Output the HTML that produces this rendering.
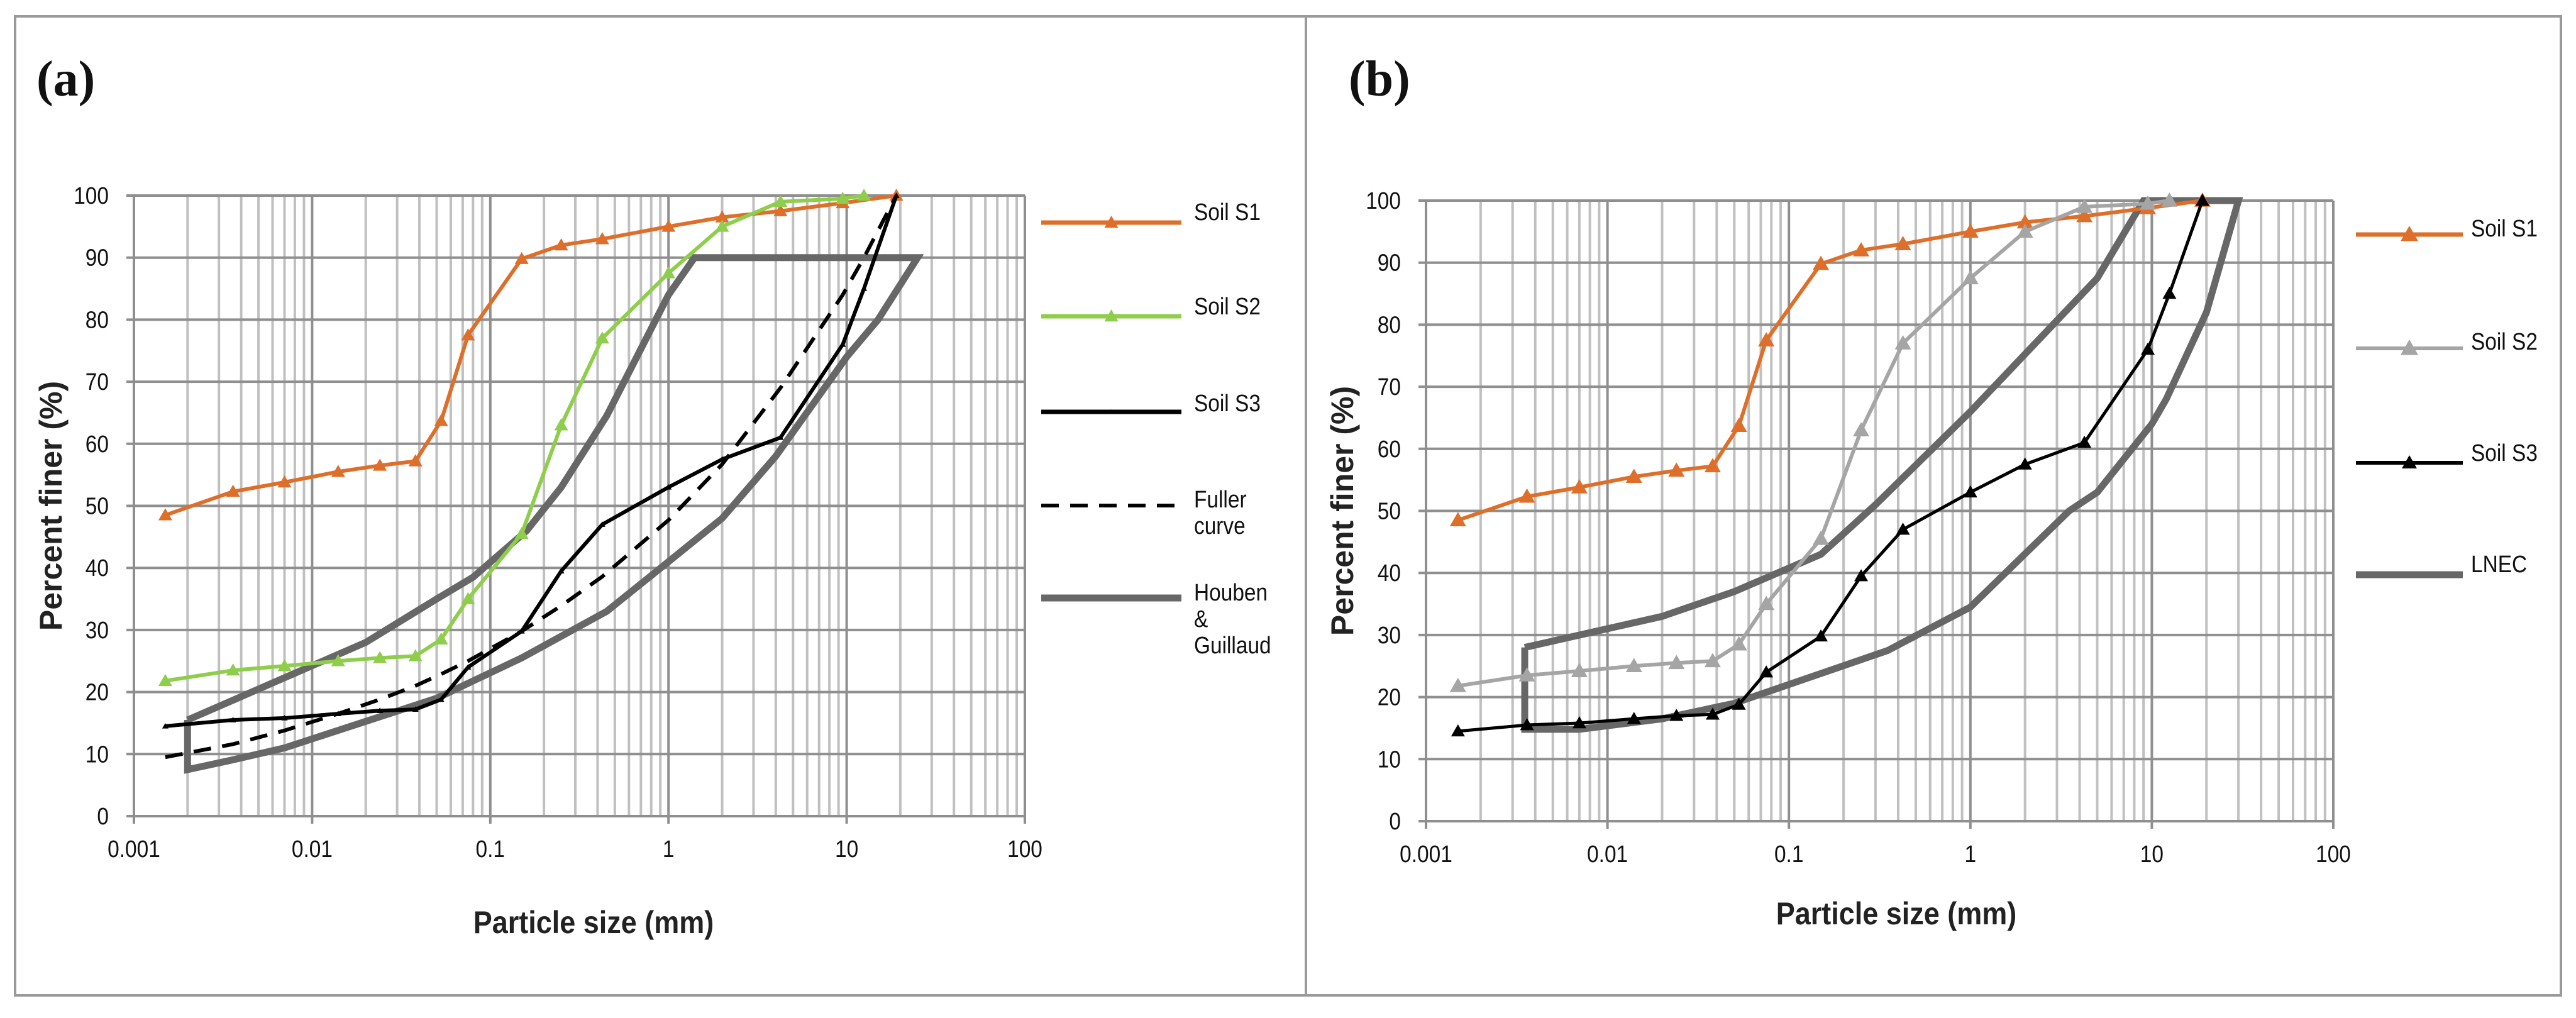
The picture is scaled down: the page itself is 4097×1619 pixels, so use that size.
<!DOCTYPE html>
<html><head><meta charset="utf-8"><style>
html,body{margin:0;padding:0;background:#fff;}
svg{display:block;}
text{font-family:"Liberation Sans",sans-serif;}
</style></head><body>
<svg id="chart" width="4097" height="1619" viewBox="0 0 4097 1619" xmlns="http://www.w3.org/2000/svg">
<rect x="24" y="26" width="4049" height="1557" fill="none" stroke="#9a9a9a" stroke-width="4"/>
<line x1="2077" y1="26" x2="2077" y2="1583" stroke="#9a9a9a" stroke-width="4"/>
<g id="pa"></g>
<g id="pb"></g>
</svg>
<script>
// ---- data ----
const sizesS = [0.0015,0.0036,0.007,0.014,0.024,0.038,0.053,0.075,0.15,0.25,0.425,1,2,4.25,9.5,19];
const s1Vals = [48.5,52.3,53.8,55.5,56.5,57.2,63.7,77.5,89.8,92,93,95,96.5,97.5,98.8,100];
const sizesS2 = [0.0015,0.0036,0.007,0.014,0.024,0.038,0.053,0.075,0.15,0.25,0.425,1,2,4.25,9.5,12.5];
const s2Vals = [21.8,23.5,24.2,25,25.5,25.8,28.5,35,45.5,63,77,87.5,95,99,99.5,100];
const sizesS3 = [0.0015,0.0036,0.007,0.014,0.024,0.038,0.053,0.075,0.15,0.25,0.425,1,2,4.25,9.5,12.5,19];
const s3Vals = [14.5,15.5,15.8,16.5,17,17.2,18.8,24,29.8,39.5,47,53,57.5,61,76,85,100];
const fullerSizes = [0.0015,0.0036,0.007,0.014,0.024,0.038,0.053,0.075,0.15,0.25,0.425,1,2,4.25,9.5,12.5,19];
const fullerVals = [9.5,11.6,13.8,16.5,18.8,21,22.9,25,29.8,33.9,38.6,47.7,56.7,69,84,90,100];
const houbenSizes = [0.002,0.02,0.05,0.08,0.16,0.25,0.45,1,1.4,25,15,10,4,2,1,0.45,0.15,0.05,0.007,0.0035,0.002,0.002];
const houbenVals = [15.5,28,35,38.5,46,53,64.5,84,90,90,80,74,58,48,41,33,25.5,19,11,9,7.5,15.5];
const lnecSizes = [0.0035,0.02,0.05,0.15,0.3,1,5,9,30,20,12,10,5,3.5,1,0.35,0.05,0.02,0.007,0.0035,0.0035];
const lnecVals = [28,33,37,43,51,66,87.5,100,100,82,68,64,53,50,34.5,27.5,19,16.5,14.8,14.8,28];
const yTicks = [0,10,20,30,40,50,60,70,80,90,100];
const xTicks = [0.001,0.01,0.1,1,10,100];
const xTickLabels = ["0.001","0.01","0.1","1","10","100"];

const NS="http://www.w3.org/2000/svg";
function mk(parent,tag,attrs,name,txt){
  const e=document.createElementNS(NS,tag);
  for(const k in attrs) e.setAttribute(k,attrs[k]);
  
  
  if(txt!==undefined) e.textContent=txt;
  parent.appendChild(e); return e;
}
function panel(g,cfg){
  const X=v=>cfg.x0+(Math.log10(v)+3)*(cfg.x1-cfg.x0)/5;
  const Y=v=>cfg.y0-v*(cfg.y0-cfg.y1)/100;
  for(let d=0;d<5;d++){for(let m=2;m<=9;m++){const v=Math.pow(10,d-3)*m;
    mk(g,'line',{x1:X(v),x2:X(v),y1:Y(0),y2:Y(100),stroke:'#c0c0c0','stroke-width':4},'minor-gridline');}}
  for(const v of xTicks){mk(g,'line',{x1:X(v),x2:X(v),y1:Y(0),y2:Y(100),stroke:'#8f8f8f','stroke-width':4},'major-gridline-x');}
  for(const v of yTicks){mk(g,'line',{x1:X(0.001)-12,x2:X(100),y1:Y(v),y2:Y(v),stroke:'#8f8f8f','stroke-width':4},'gridline-y');
    mk(g,'text',{x:X(0.001)-40,y:Y(v)+13,'text-anchor':'end','font-size':38,fill:'#111',transform:`translate(${(X(0.001)-40)*0.12},0) scale(0.88,1)`},'y-tick-label',String(v));}
  for(let i=0;i<xTicks.length;i++){const x=X(xTicks[i]);
    mk(g,'line',{x1:x,x2:x,y1:Y(0),y2:Y(0)+12,stroke:'#8f8f8f','stroke-width':4},'x-tick');
    mk(g,'text',{x:x/0.88,y:Y(0)+65,'text-anchor':'middle','font-size':38,fill:'#111',transform:'scale(0.88,1)'},'x-tick-label',xTickLabels[i]);}
  mk(g,'text',{x:0,y:0,'text-anchor':'middle','font-size':50,'font-weight':'bold',fill:'#222',transform:`translate(${cfg.ytx},${(Y(0)+Y(100))/2}) rotate(-90)`},'y-axis-title','Percent finer (%)');
  mk(g,'text',{x:cfg.xtx/0.9,y:cfg.xty,'text-anchor':'middle','font-size':50,'font-weight':'bold',fill:'#222',transform:'scale(0.9,1)'},'x-axis-title','Particle size (mm)');
  mk(g,'text',{x:cfg.lx,y:152,'font-size':80,'font-weight':'bold',fill:'#111',style:'font-family:"Liberation Serif",serif'},'panel-label',cfg.label);
  const env=cfg.env;
  mk(g,'polyline',{points:env.xs.map((v,i)=>X(v)+','+Y(env.ys[i])).join(' '),fill:'none',stroke:'#676767','stroke-width':11,'stroke-linejoin':'miter'},env.name);
  for(const s of cfg.series){
    const a={points:s.xs.map((v,i)=>X(v)+','+Y(s.ys[i])).join(' '),fill:'none',stroke:s.color,'stroke-width':s.w,'stroke-linejoin':'round'};
    if(s.dash) a['stroke-dasharray']=s.dash;
    mk(g,'polyline',a,s.name+'-line');
    if(s.mk){for(let i=0;i<s.xs.length;i++){const cx=X(s.xs[i]),cy=Y(s.ys[i]),r=s.mk;
      mk(g,'polygon',{points:`${cx},${cy-r} ${cx-r},${cy+r*0.75} ${cx+r},${cy+r*0.75}`,fill:s.color},s.name+'-marker');}}
  }
  for(const L of cfg.legend){
    const a={x1:cfg.lgx0,x2:cfg.lgx1,y1:L.y,y2:L.y,stroke:L.color,'stroke-width':L.w};
    if(L.dash)a['stroke-dasharray']=L.dash;
    mk(g,'line',a,'legend-line');
    if(L.mk){const cx=(cfg.lgx0+cfg.lgx1)/2,r=L.mk;mk(g,'polygon',{points:`${cx},${L.y-r} ${cx-r},${L.y+r*0.75} ${cx+r},${L.y+r*0.75}`,fill:L.color},'legend-marker');}
    L.text.forEach((t,j)=>mk(g,'text',{x:cfg.lgtx/0.88,y:L.ty+j*42,'font-size':38,fill:'#111',transform:'scale(0.88,1)'},'legend-label',t));
  }
}
panel(document.getElementById('pa'),{x0:213,x1:1630,y0:1298,y1:311,ytx:98,xtx:944,xty:1484,lx:58,label:'(a)',
  env:{xs:houbenSizes,ys:houbenVals,name:'houben-guillaud-envelope'},
  series:[{name:'soil-s1',xs:sizesS,ys:s1Vals,color:'#dd6f2b',w:6,mk:11},
          {name:'soil-s2',xs:sizesS2,ys:s2Vals,color:'#8fce4c',w:6,mk:11},
          {name:'soil-s3',xs:sizesS3,ys:s3Vals,color:'#000',w:6,mk:5},
          {name:'fuller-curve',xs:fullerSizes,ys:fullerVals,color:'#000',w:6,dash:'28 18'}],
  lgx0:1656,lgx1:1879,lgtx:1899,
  legend:[{y:354,color:'#dd6f2b',w:7,mk:11,text:['Soil S1'],ty:350},
          {y:503,color:'#8fce4c',w:7,mk:11,text:['Soil S2'],ty:500},
          {y:655,color:'#000',w:7,mk:4,text:['Soil S3'],ty:654},
          {y:804,color:'#000',w:6,dash:'28 18',text:['Fuller','curve'],ty:807},
          {y:951,color:'#676767',w:11,text:['Houben','&','Guillaud'],ty:955}]});
panel(document.getElementById('pb'),{x0:2268,x1:3711,y0:1306,y1:319,ytx:2152,xtx:3016,xty:1470,lx:2145,label:'(b)',
  env:{xs:lnecSizes,ys:lnecVals,name:'lnec-envelope'},
  series:[{name:'soil-s1',xs:sizesS,ys:s1Vals,color:'#dd6f2b',w:6,mk:13},
          {name:'soil-s2',xs:sizesS2,ys:s2Vals,color:'#a5a5a5',w:6,mk:13},
          {name:'soil-s3',xs:sizesS3,ys:s3Vals,color:'#000',w:5,mk:11}],
  lgx0:3747,lgx1:3917,lgtx:3930,
  legend:[{y:373,color:'#dd6f2b',w:7,mk:14,text:['Soil S1'],ty:376},
          {y:554,color:'#a5a5a5',w:6,mk:14,text:['Soil S2'],ty:556},
          {y:736,color:'#000',w:6,mk:12,text:['Soil S3'],ty:733},
          {y:914,color:'#676767',w:11,text:['LNEC'],ty:910}]});
</script>
</body></html>
